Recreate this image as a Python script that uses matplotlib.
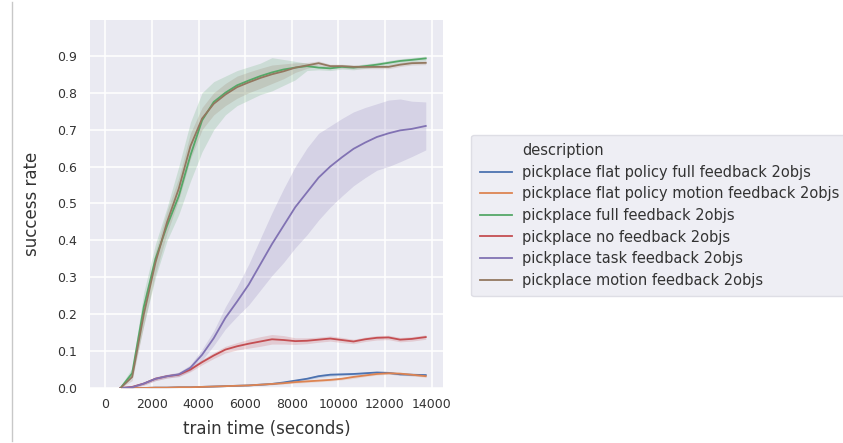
import numpy as np
import matplotlib
matplotlib.use('Agg')
from matplotlib import pyplot as plt
from matplotlib.lines import Line2D

# training time samples (seconds)
train_time = [650, 1150, 1650, 2150, 2650, 3150, 3650, 4150, 4650, 5150, 5650,
              6150, 6650, 7150, 7650, 8150, 8650, 9150, 9650, 10150, 10650,
              11150, 11650, 12150, 12650, 13150, 13750]

flat_full = [0.0, 0.0, 0.0, 0.001, 0.001, 0.002, 0.002, 0.003, 0.004, 0.005, 0.006,
             0.007, 0.009, 0.011, 0.015, 0.020, 0.025, 0.032, 0.036, 0.037, 0.038,
             0.040, 0.042, 0.041, 0.037, 0.036, 0.035]
flat_full_lo = [0.0, 0.0, 0.0, 0.0, 0.0, 0.001, 0.001, 0.002, 0.003, 0.004, 0.005,
                0.006, 0.007, 0.009, 0.012, 0.017, 0.022, 0.028, 0.032, 0.034, 0.035,
                0.037, 0.039, 0.038, 0.034, 0.033, 0.031]
flat_full_hi = [0.0, 0.001, 0.001, 0.002, 0.002, 0.003, 0.003, 0.004, 0.005, 0.006, 0.007,
                0.008, 0.011, 0.013, 0.018, 0.023, 0.028, 0.036, 0.040, 0.040, 0.041,
                0.043, 0.045, 0.044, 0.040, 0.039, 0.039]

flat_motion = [0.0, 0.0, 0.0, 0.001, 0.001, 0.002, 0.002, 0.003, 0.004, 0.005, 0.006,
               0.007, 0.009, 0.011, 0.013, 0.016, 0.018, 0.020, 0.022, 0.025, 0.030,
               0.034, 0.038, 0.040, 0.039, 0.036, 0.032]
flat_motion_lo = [0.0, 0.0, 0.0, 0.0, 0.0, 0.001, 0.001, 0.002, 0.003, 0.004, 0.005,
                  0.006, 0.007, 0.009, 0.011, 0.013, 0.015, 0.017, 0.019, 0.022, 0.026,
                  0.031, 0.035, 0.037, 0.036, 0.033, 0.029]
flat_motion_hi = [0.0, 0.001, 0.001, 0.002, 0.002, 0.003, 0.003, 0.004, 0.005, 0.006, 0.007,
                  0.008, 0.011, 0.013, 0.015, 0.019, 0.021, 0.023, 0.025, 0.028, 0.034,
                  0.037, 0.041, 0.043, 0.042, 0.039, 0.035]

full_fb = [0.0, 0.04, 0.22, 0.35, 0.44, 0.52, 0.63, 0.725, 0.775, 0.80, 0.82,
           0.833, 0.845, 0.855, 0.863, 0.868, 0.872, 0.868, 0.866, 0.870, 0.868,
           0.872, 0.876, 0.881, 0.886, 0.889, 0.893]
full_fb_lo = [0.0, 0.03, 0.17, 0.30, 0.40, 0.47, 0.56, 0.64, 0.70, 0.74, 0.765,
              0.78, 0.795, 0.805, 0.82, 0.835, 0.86, 0.862, 0.860, 0.864, 0.862,
              0.866, 0.870, 0.875, 0.880, 0.883, 0.887]
full_fb_hi = [0.005, 0.055, 0.26, 0.39, 0.49, 0.60, 0.72, 0.80, 0.83, 0.845, 0.86,
              0.87, 0.88, 0.895, 0.89, 0.885, 0.88, 0.874, 0.872, 0.876, 0.874,
              0.878, 0.882, 0.887, 0.892, 0.895, 0.899]

no_fb = [0.0, 0.003, 0.012, 0.025, 0.032, 0.036, 0.050, 0.070, 0.088, 0.104, 0.113,
         0.120, 0.126, 0.132, 0.130, 0.127, 0.128, 0.131, 0.134, 0.130, 0.126,
         0.132, 0.136, 0.137, 0.131, 0.133, 0.138]
no_fb_lo = [0.0, 0.0, 0.008, 0.020, 0.027, 0.031, 0.044, 0.063, 0.080, 0.095, 0.103,
            0.108, 0.113, 0.119, 0.119, 0.118, 0.120, 0.124, 0.127, 0.123, 0.120,
            0.126, 0.130, 0.131, 0.125, 0.127, 0.132]
no_fb_hi = [0.002, 0.006, 0.016, 0.030, 0.037, 0.041, 0.056, 0.077, 0.096, 0.113, 0.123,
            0.132, 0.139, 0.145, 0.142, 0.136, 0.136, 0.138, 0.141, 0.137, 0.132,
            0.138, 0.142, 0.143, 0.137, 0.139, 0.144]

task_fb = [0.0, 0.002, 0.012, 0.025, 0.032, 0.037, 0.055, 0.090, 0.135, 0.190, 0.234,
           0.280, 0.335, 0.390, 0.440, 0.490, 0.530, 0.570, 0.600, 0.625, 0.648,
           0.665, 0.680, 0.690, 0.698, 0.702, 0.710]
task_fb_lo = [0.0, 0.0, 0.008, 0.020, 0.027, 0.031, 0.047, 0.075, 0.115, 0.160, 0.194,
              0.225, 0.265, 0.305, 0.340, 0.380, 0.415, 0.455, 0.490, 0.520, 0.548,
              0.570, 0.590, 0.600, 0.613, 0.627, 0.645]
task_fb_hi = [0.002, 0.005, 0.016, 0.030, 0.037, 0.043, 0.063, 0.105, 0.155, 0.220, 0.274,
              0.335, 0.405, 0.475, 0.540, 0.600, 0.650, 0.690, 0.710, 0.730, 0.748,
              0.760, 0.770, 0.780, 0.783, 0.777, 0.775]

motion_fb = [0.0, 0.03, 0.20, 0.34, 0.45, 0.54, 0.655, 0.73, 0.77, 0.795, 0.815,
             0.828, 0.840, 0.850, 0.858, 0.868, 0.874, 0.880, 0.872, 0.872, 0.870,
             0.870, 0.870, 0.870, 0.876, 0.880, 0.881]
motion_fb_lo = [0.0, 0.02, 0.17, 0.31, 0.42, 0.51, 0.62, 0.70, 0.74, 0.765, 0.785,
                0.80, 0.812, 0.825, 0.838, 0.855, 0.866, 0.874, 0.867, 0.867, 0.865,
                0.865, 0.865, 0.865, 0.871, 0.875, 0.876]
motion_fb_hi = [0.003, 0.04, 0.23, 0.37, 0.48, 0.57, 0.69, 0.76, 0.80, 0.825, 0.845,
                0.856, 0.866, 0.875, 0.878, 0.881, 0.882, 0.886, 0.877, 0.877, 0.875,
                0.875, 0.875, 0.875, 0.881, 0.885, 0.886]

labels = ['pickplace flat policy full feedback 2objs',
          'pickplace flat policy motion feedback 2objs',
          'pickplace full feedback 2objs',
          'pickplace no feedback 2objs',
          'pickplace task feedback 2objs',
          'pickplace motion feedback 2objs']
colors = ['#4c72b0', '#dd8452', '#55a868', '#c44e52', '#8172b3', '#937860']

series = [(flat_full, flat_full_lo, flat_full_hi),
          (flat_motion, flat_motion_lo, flat_motion_hi),
          (full_fb, full_fb_lo, full_fb_hi),
          (no_fb, no_fb_lo, no_fb_hi),
          (task_fb, task_fb_lo, task_fb_hi),
          (motion_fb, motion_fb_lo, motion_fb_hi)]

plt.rcParams['font.family'] = 'DejaVu Sans'
fig = plt.figure(figsize=(8.43, 4.43), dpi=100)
ax = fig.add_axes([90 / 843, 1 - 388 / 443, 353 / 843, 368 / 443])
ax.set_facecolor('#eaeaf2')
for s in ax.spines.values():
    s.set_visible(False)
ax.grid(True, color='white', linewidth=1.1)
ax.set_axisbelow(True)

t = np.array(train_time)
for (mean, lo, hi), color, label in zip(series, colors, labels):
    ax.fill_between(t, lo, hi, color=color, alpha=0.2, linewidth=0)
    ax.plot(t, mean, color=color, linewidth=1.3, label=label)

ax.set_xlim(-660, 14490)
ax.set_ylim(0, 0.997)
ax.set_xticks([0, 2000, 4000, 6000, 8000, 10000, 12000, 14000])
ax.set_yticks([0.0, 0.1, 0.2, 0.3, 0.4, 0.5, 0.6, 0.7, 0.8, 0.9])
ax.set_yticklabels([f'{v:.1f}' for v in ax.get_yticks()])
ax.tick_params(axis='both', length=0, labelsize=9, labelcolor='#333333')
ax.tick_params(axis='y', pad=9)
ax.tick_params(axis='x', pad=7)
ax.set_xlabel('train time (seconds)', fontsize=12, color='#333333', labelpad=7)
ax.set_ylabel('success rate', fontsize=12, color='#333333', labelpad=12)

handles, leg_labels = ax.get_legend_handles_labels()
title_handle = Line2D([], [], linestyle='none')
leg = fig.legend([title_handle] + handles, ['description'] + leg_labels,
                 loc='center left', bbox_to_anchor=(464 / 843, 1 - 215.5 / 443),
                 fontsize=10.5, labelspacing=0.45, handlelength=2.2,
                 handletextpad=0.7, borderpad=0.6, frameon=True)
leg.get_frame().set_facecolor('#eaeaf2')
leg.get_frame().set_edgecolor('#d8d8e0')
for txt in leg.get_texts():
    txt.set_color('#333333')

fig.add_artist(Line2D([12 / 843, 12 / 843], [0.005, 0.995], color='#c8c8c8', linewidth=1))

fig.savefig('out.png', dpi=100)
